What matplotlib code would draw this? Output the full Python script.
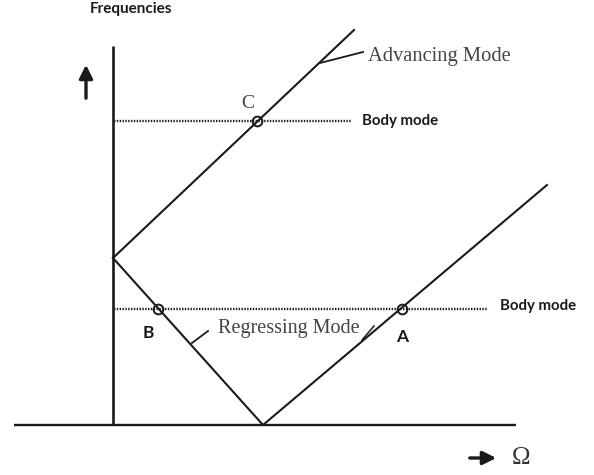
import matplotlib
matplotlib.use('Agg')
import matplotlib.pyplot as plt

# Data (Omega on x, frequency on y, arbitrary units)
omega_adv = [0.0, 24.1]
freq_adv = [16.7, 39.5]
omega_reg = [0.0, 15.0, 43.4]
freq_reg = [16.7, 0.0, 24.0]
body_freq = [30.4, 11.6]
body_end = [23.9, 37.5]
cross_names = ['C', 'B', 'A']
cross_omega = [14.4, 4.5, 28.9]
cross_freq = [30.4, 11.6, 11.6]

fig = plt.figure(figsize=(5.94, 4.75), dpi=100)
ax = fig.add_axes([0, 0, 1, 1])
ax.set_xlim(-11.3, 48.1)
ax.set_ylim(-5.0, 42.5)
ax.axis('off')

ink = '#1a1a1a'
serif = 'Liberation Serif'
sans = 'Lato'

# axes
ax.plot([-9.9, 40.3], [0, 0], color=ink, lw=1.7, solid_capstyle='butt')
ax.plot([0, 0], [0, 37.9], color=ink, lw=1.9, solid_capstyle='butt')

# mode lines
ax.plot(omega_adv, freq_adv, color=ink, lw=1.5)
ax.plot(omega_reg, freq_reg, color=ink, lw=1.5)

# body modes (dotted)
for f, e in zip(body_freq, body_end):
    ax.plot([0.1, e], [f, f], color=ink, lw=1.7, ls=(0, (0.6, 0.6)))

# crossing points
ax.plot(cross_omega, cross_freq, 'o', ms=7, mfc='none', mec=ink, mew=1.4)

# arrows
ax.annotate('', xy=(-2.7, 36.3), xytext=(-2.7, 32.4),
            arrowprops=dict(arrowstyle='-|>,head_length=0.8,head_width=0.4', color=ink, lw=2.4))
ax.annotate('', xy=(38.6, -3.3), xytext=(35.4, -3.3),
            arrowprops=dict(arrowstyle='-|>,head_length=0.8,head_width=0.4', color=ink, lw=2.4))

# leader ticks
ax.plot([20.7, 25.0], [36.2, 37.3], color=ink, lw=1.3)
ax.plot([7.9, 9.5], [8.2, 9.4], color=ink, lw=1.3)
ax.plot([24.9, 26.1], [8.5, 9.9], color=ink, lw=1.1)

# texts
ax.text(1.8, 41.6, 'Frequencies', family=sans, weight='bold', fontsize=11,
        color=ink, ha='center', va='center')
ax.text(24.9, 30.4, 'Body mode', family=sans, weight='bold', fontsize=10.8,
        color=ink, ha='left', va='center')
ax.text(38.7, 11.9, 'Body mode', family=sans, weight='bold', fontsize=10.8,
        color=ink, ha='left', va='center')
ax.text(25.5, 36.8, 'Advancing Mode', family=serif, fontsize=14.8,
        color='#444444', ha='left', va='center')
ax.text(10.5, 9.6, 'Regressing Mode', family=serif, fontsize=14.5,
        color='#444444', ha='left', va='center')
ax.text(13.5, 32.2, cross_names[0], family=serif, fontsize=14,
        color='#444444', ha='center', va='center')
ax.text(3.5, 9.2, cross_names[1], family=sans, weight='bold', fontsize=12.5,
        color=ink, ha='center', va='center')
ax.text(28.9, 8.8, cross_names[2], family=sans, weight='bold', fontsize=12.5,
        color=ink, ha='center', va='center')
ax.text(40.8, -3.3, '\u03a9', family=serif, fontsize=18,
        color='#333333', ha='center', va='center')

fig.savefig('out.png', dpi=100)
